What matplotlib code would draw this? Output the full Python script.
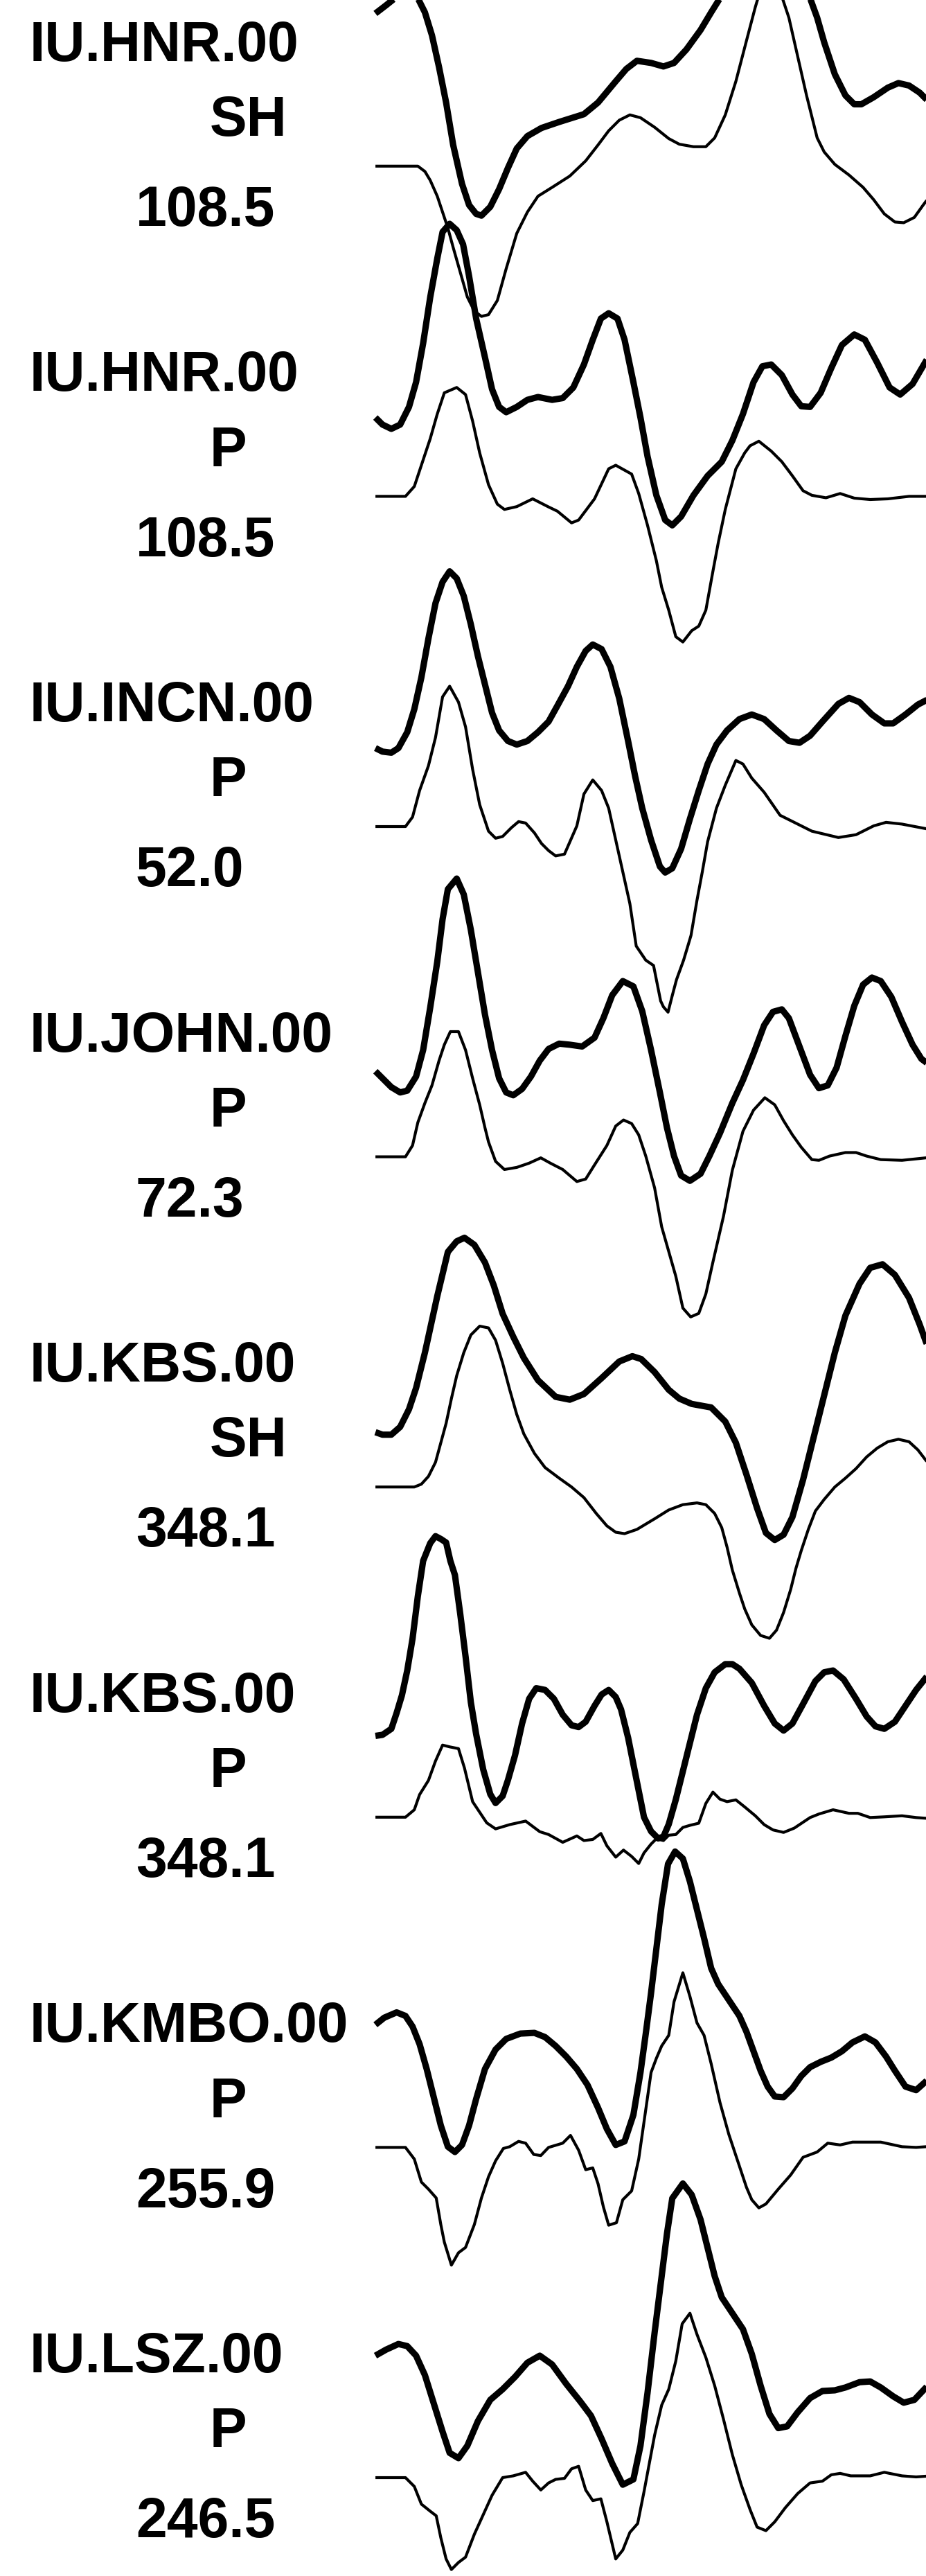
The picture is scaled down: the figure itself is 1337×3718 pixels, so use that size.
import matplotlib
matplotlib.use("Agg")
import matplotlib.pyplot as plt

# station / phase / azimuth labels, top to bottom
stations = ["IU.HNR.00", "IU.HNR.00", "IU.INCN.00", "IU.JOHN.00",
            "IU.KBS.00", "IU.KBS.00", "IU.KMBO.00", "IU.LSZ.00"]
phases = ["SH", "P", "P", "P", "SH", "P", "P", "P"]
azimuths = [108.5, 108.5, 52.0, 72.3, 348.1, 348.1, 255.9, 246.5]

# ---------------------------------------------------------------------------
# waveforms: time [s] and normalised amplitude (thick = obs, thin = syn)

hnr_sh_obs_t = [0, 0.75, 1.375, 2.25, 3.0, 3.5, 4.0, 4.5, 5.0, 5.5, 6.125, 6.625, 7.125, 7.5,
                8.125, 8.75, 9.375, 10.0, 10.75, 11.75, 13.0, 14.75, 15.75, 17.0, 17.75, 18.5,
                19.5, 20.375, 21.125, 22.0, 23.0, 23.75, 24.375, 26.0, 27.5, 29.25, 30.75,
                31.25, 31.75, 32.5, 33.25, 33.875, 34.375, 35.25, 36.25, 37.0, 37.75, 38.5,
                38.95, 39.75]
hnr_sh_obs = [4.32, 4.55, 4.75, 5.10, 4.75, 4.35, 3.70, 2.80, 1.80, 0.60, -0.50, -1.10, -1.35,
              -1.40, -1.15, -0.65, -0.05, 0.50, 0.85, 1.08, 1.25, 1.47, 1.80, 2.40, 2.75, 2.98,
              2.92, 2.82, 2.92, 3.30, 3.85, 4.35, 4.75, 5.60, 6.00, 5.60, 4.75, 4.20, 3.50,
              2.60, 2.00, 1.75, 1.75, 1.95, 2.22, 2.35, 2.28, 2.08, 1.90, 1.60]
hnr_sh_syn_t = [0, 3.0, 3.5, 3.875, 4.375, 4.75, 5.125, 5.5, 6.0, 6.5, 7.0, 7.5, 8.0, 8.625,
                9.25, 10.0, 10.75, 11.5, 12.5, 13.75, 14.875, 15.75, 16.5, 17.25, 18.0, 18.75,
                19.75, 20.75, 21.5, 22.5, 23.375, 24.0, 24.75, 25.5, 26.25, 26.875, 27.25,
                27.875, 28.5, 28.75, 29.25, 29.875, 30.5, 31.25, 31.75, 32.5, 33.5, 34.5,
                35.25, 36.0, 36.75, 37.375, 38.125, 38.75, 39.5]
hnr_sh_syn = [0, 0, -0.15, -0.40, -0.85, -1.30, -1.75, -2.30, -3.00, -3.70, -4.10, -4.25,
              -4.20, -3.80, -2.90, -1.90, -1.30, -0.85, -0.60, -0.28, 0.15, 0.60, 1.00, 1.30,
              1.45, 1.37, 1.10, 0.78, 0.62, 0.55, 0.55, 0.80, 1.45, 2.40, 3.55, 4.50, 5.00,
              5.40, 5.00, 4.80, 4.20, 3.10, 2.00, 0.80, 0.40, 0.05, -0.25, -0.60, -0.95,
              -1.35, -1.58, -1.60, -1.45, -1.10, -0.70]

hnr_p_obs_t = [0, 0.5, 1.125, 1.75, 2.375, 2.875, 3.375, 3.875, 4.375, 4.75, 5.25, 5.75, 6.2,
               6.625, 7.125, 7.75, 8.25, 8.75, 9.25, 10.0, 10.75, 11.5, 12.5, 13.25, 14.0,
               14.75, 15.375, 15.95, 16.5, 17.125, 17.625, 18.25, 18.75, 19.25, 19.875, 20.5,
               21.0, 21.625, 22.5, 23.5, 24.5, 25.25, 26.0, 26.75, 27.375, 28.0, 28.75, 29.5,
               30.125, 30.75, 31.5, 32.25, 33.0, 33.875, 34.625, 35.5, 36.375, 37.125, 38.0,
               38.95, 39.75]
hnr_p_obs = [2.23, 2.03, 1.91, 2.03, 2.53, 3.23, 4.33, 5.63, 6.73, 7.48, 7.71, 7.53, 7.13,
             6.23, 5.03, 3.93, 3.03, 2.53, 2.38, 2.53, 2.73, 2.81, 2.73, 2.78, 3.08, 3.73,
             4.43, 5.03, 5.18, 5.03, 4.43, 3.23, 2.23, 1.13, 0.03, -0.67, -0.82, -0.57, 0.03,
             0.58, 0.98, 1.58, 2.33, 3.23, 3.68, 3.73, 3.43, 2.88, 2.55, 2.53, 2.93, 3.63,
             4.28, 4.58, 4.43, 3.78, 3.08, 2.88, 3.18, 3.83, 4.38]
hnr_p_syn_t = [0, 2.125, 2.75, 3.25, 3.875, 4.375, 4.875, 5.75, 6.375, 6.875, 7.375, 8.0,
               8.625, 9.125, 10.0, 11.125, 12.25, 12.875, 13.875, 14.375, 15.5, 16.5, 17.0,
               18.125, 18.625, 19.25, 19.875, 20.25, 20.75, 21.25, 21.75, 22.375, 22.875,
               23.375, 23.875, 24.25, 24.75, 25.5, 26.125, 26.5, 27.125, 28.0, 28.75, 29.5,
               30.25, 30.875, 31.875, 32.875, 33.875, 35.0, 36.25, 37.75, 38.95, 39.75]
hnr_p_syn = [0, 0, 0.28, 0.88, 1.63, 2.33, 2.93, 3.08, 2.88, 2.13, 1.23, 0.33, -0.22, -0.37,
             -0.29, -0.07, -0.30, -0.42, -0.75, -0.67, -0.07, 0.78, 0.88, 0.63, 0.08, -0.82,
             -1.82, -2.57, -3.22, -3.97, -4.12, -3.80, -3.67, -3.22, -2.12, -1.32, -0.37,
             0.78, 1.23, 1.43, 1.56, 1.28, 0.98, 0.58, 0.16, 0.03, -0.04, 0.08, -0.05, -0.09,
             -0.07, 0.0, 0.0, -0.02]

incn_p_obs_t = [0, 0.5, 1.125, 1.625, 2.25, 2.75, 3.25, 3.75, 4.25, 4.75, 5.25, 5.75, 6.25,
                6.75, 7.25, 7.75, 8.25, 8.75, 9.375, 10.0, 10.75, 11.5, 12.25, 12.875, 13.625,
                14.25, 14.875, 15.375, 16.0, 16.625, 17.25, 17.875, 18.375, 18.875, 19.5,
                20.125, 20.5, 21.0, 21.625, 22.25, 22.875, 23.5, 24.125, 24.875, 25.75, 26.625,
                27.5, 28.375, 29.25, 30.0, 30.75, 31.625, 32.75, 33.5, 34.25, 35.125, 36.0,
                36.625, 37.5, 38.375, 38.95, 39.75]
incn_p_obs = [2.22, 2.12, 2.09, 2.22, 2.67, 3.32, 4.22, 5.32, 6.32, 6.92, 7.22, 7.02, 6.52,
              5.72, 4.82, 4.02, 3.22, 2.72, 2.42, 2.32, 2.42, 2.67, 2.97, 3.42, 3.97, 4.52,
              4.97, 5.15, 5.02, 4.52, 3.62, 2.42, 1.42, 0.52, -0.38, -1.13, -1.30, -1.18,
              -0.63, 0.22, 1.02, 1.77, 2.32, 2.72, 3.04, 3.17, 3.04, 2.72, 2.42, 2.37, 2.57,
              2.97, 3.47, 3.64, 3.52, 3.17, 2.92, 2.92, 3.17, 3.45, 3.57, 3.67]
incn_p_syn_t = [0, 2.125, 2.625, 3.125, 3.75, 4.25, 4.75, 5.25, 5.875, 6.375, 6.875, 7.375,
                8.0, 8.5, 9.0, 9.625, 10.125, 10.625, 11.25, 11.75, 12.25, 12.75, 13.375,
                14.25, 14.75, 15.375, 16.0, 16.5, 17.0, 17.5, 18.0, 18.45, 19.125, 19.675,
                19.925, 20.175, 20.375, 20.7, 21.0, 21.3, 21.8, 22.325, 22.75, 23.125, 23.5,
                24.125, 24.75, 25.5, 26.0, 26.625, 27.5, 28.625, 29.375, 30.875, 32.75, 34.0,
                35.25, 36.125, 37.25, 38.95, 39.75]
incn_p_syn = [0, 0, 0.27, 1.02, 1.72, 2.52, 3.67, 3.97, 3.52, 2.82, 1.62, 0.62, -0.13, -0.33,
              -0.28, -0.03, 0.14, 0.10, -0.18, -0.48, -0.68, -0.83, -0.78, 0.02, 0.92, 1.32,
              1.02, 0.52, -0.38, -1.28, -2.18, -3.38, -3.78, -3.93, -4.43, -4.93, -5.10,
              -5.25, -4.78, -4.33, -3.78, -3.08, -2.08, -1.28, -0.43, 0.52, 1.17, 1.87, 1.77,
              1.37, 0.97, 0.32, 0.17, -0.13, -0.31, -0.23, 0.02, 0.12, 0.07, -0.06, -0.10]

john_p_obs_t = [0, 0.5, 1.125, 1.75, 2.25, 2.875, 3.375, 3.875, 4.375, 4.75, 5.125, 5.75,
                6.25, 6.75, 7.25, 7.75, 8.25, 8.75, 9.25, 9.75, 10.375, 11.0, 11.625, 12.25,
                13.0, 13.75, 14.625, 15.5, 16.125, 16.75, 17.5, 18.25, 18.875, 19.5, 20.125,
                20.625, 21.125, 21.625, 22.25, 23.0, 23.625, 24.375, 25.25, 26.0, 26.75, 27.5,
                28.125, 28.75, 29.25, 30.0, 30.75, 31.375, 32.0, 32.625, 33.25, 33.875, 34.5,
                35.125, 35.75, 36.5, 37.25, 38.0, 38.625, 39.125, 39.75]
john_p_obs = [2.42, 2.22, 1.97, 1.82, 1.87, 2.27, 3.02, 4.22, 5.52, 6.72, 7.57, 7.87, 7.42,
              6.42, 5.22, 4.02, 3.02, 2.22, 1.82, 1.74, 1.92, 2.27, 2.72, 3.05, 3.20, 3.17,
              3.12, 3.37, 3.92, 4.57, 4.97, 4.82, 4.12, 3.02, 1.82, 0.82, 0.02, -0.53, -0.68,
              -0.48, 0.02, 0.67, 1.52, 2.17, 2.92, 3.72, 4.10, 4.17, 3.92, 3.12, 2.32, 1.94,
              2.02, 2.52, 3.42, 4.27, 4.87, 5.07, 4.97, 4.52, 3.82, 3.17, 2.77, 2.62, 2.45]
john_p_syn_t = [0, 2.125, 2.625, 3.0, 3.5, 4.0, 4.5, 4.875, 5.3, 5.875, 6.375, 6.875, 7.375,
                7.75, 8.0, 8.5, 9.125, 10.0, 10.875, 11.7, 12.375, 13.25, 14.25, 14.875, 15.5,
                16.375, 17.0, 17.55, 18.125, 18.625, 19.125, 19.75, 20.25, 20.75, 21.25, 21.75,
                22.3, 22.875, 23.375, 23.875, 24.625, 25.25, 26.0, 26.75, 27.55, 28.25,
                28.875, 29.5, 30.125, 30.875, 31.375, 32.125, 33.25, 34.0, 34.75, 35.75, 37.25,
                38.95, 39.75]
john_p_syn = [0, 0, 0.32, 0.97, 1.52, 2.02, 2.72, 3.17, 3.54, 3.54, 3.02, 2.22, 1.47, 0.82,
              0.42, -0.13, -0.36, -0.30, -0.18, -0.03, -0.18, -0.36, -0.70, -0.63, -0.23,
              0.32, 0.87, 1.04, 0.94, 0.62, 0.02, -0.88, -1.98, -2.68, -3.38, -4.28, -4.53,
              -4.43, -3.88, -2.98, -1.68, -0.38, 0.72, 1.32, 1.67, 1.47, 1.02, 0.62, 0.27,
              -0.08, -0.10, 0.02, 0.12, 0.12, 0.02, -0.08, -0.10, -0.03, -0.03]

kbs_sh_obs_t = [0, 0.5, 1.125, 1.75, 2.375, 2.875, 3.5, 4.375, 5.125, 5.75, 6.3, 7.0, 7.75,
                8.375, 9.0, 9.75, 10.5, 11.5, 12.75, 13.75, 14.75, 16.0, 17.25, 18.175, 18.8,
                19.75, 20.75, 21.5, 22.375, 23.75, 24.75, 25.5, 26.25, 27.0, 27.625, 28.25,
                28.875, 29.5, 30.25, 31.0, 31.75, 32.5, 33.25, 34.25, 35.0, 35.875, 36.75,
                37.75, 38.5, 38.95, 39.75]
kbs_sh_obs = [1.55, 1.48, 1.48, 1.70, 2.20, 2.80, 3.80, 5.40, 6.65, 6.95, 7.05, 6.85, 6.35,
              5.70, 4.90, 4.25, 3.65, 3.02, 2.55, 2.47, 2.63, 3.08, 3.55, 3.70, 3.62, 3.25,
              2.75, 2.50, 2.35, 2.25, 1.85, 1.25, 0.35, -0.60, -1.30, -1.50, -1.35, -0.85,
              0.20, 1.40, 2.60, 3.80, 4.85, 5.75, 6.20, 6.30, 6.00, 5.35, 4.60, 4.10, 3.40]
kbs_sh_syn_t = [0, 2.75, 3.25, 3.75, 4.25, 4.625, 5.0, 5.375, 5.75, 6.25, 6.75, 7.375, 8.0,
                8.5, 9.0, 9.5, 10.0, 10.5, 11.25, 12.0, 13.0, 13.875, 14.75, 15.625, 16.375,
                17.0, 17.625, 18.5, 19.75, 20.75, 21.75, 22.75, 23.375, 24.0, 24.5, 24.875,
                25.25, 25.75, 26.125, 26.625, 27.25, 27.875, 28.375, 28.875, 29.375, 29.75,
                30.125, 30.625, 31.125, 31.75, 32.5, 33.25, 34.0, 34.75, 35.5, 36.25, 37.0,
                37.75, 38.375, 38.95, 39.75]
kbs_sh_syn = [0, 0, 0.08, 0.30, 0.70, 1.25, 1.80, 2.50, 3.15, 3.80, 4.30, 4.55, 4.50, 4.15,
              3.50, 2.75, 2.05, 1.50, 0.95, 0.55, 0.25, 0.0, -0.30, -0.75, -1.10, -1.28,
              -1.32, -1.20, -0.90, -0.65, -0.50, -0.45, -0.50, -0.75, -1.15, -1.70, -2.35,
              -3.00, -3.45, -3.90, -4.20, -4.28, -4.05, -3.55, -2.90, -2.30, -1.80, -1.20,
              -0.68, -0.35, 0.0, 0.25, 0.52, 0.85, 1.10, 1.28, 1.35, 1.28, 1.05, 0.75, 0.30]

kbs_p_obs_t = [0, 0.5, 1.125, 1.5, 1.875, 2.25, 2.625, 3.0, 3.375, 3.875, 4.25, 4.625, 5.0,
               5.3, 5.625, 6.0, 6.375, 6.75, 7.125, 7.625, 8.125, 8.5, 9.0, 9.375, 9.875,
               10.375, 10.875, 11.375, 12.0, 12.625, 13.25, 13.875, 14.375, 14.875, 15.5,
               16.0, 16.5, 17.0, 17.375, 17.875, 18.375, 19.0, 19.5, 20.0, 20.375, 20.75,
               21.25, 21.75, 22.25, 22.75, 23.375, 24.0, 24.75, 25.25, 25.75, 26.625, 27.5,
               28.25, 28.875, 29.5, 30.25, 31.125, 31.75, 32.375, 33.125, 34.0, 34.75, 35.375,
               36.0, 36.75, 37.5, 38.25, 38.95, 39.75]
kbs_p_obs = [2.30, 2.33, 2.50, 2.95, 3.45, 4.15, 5.05, 6.25, 7.25, 7.75, 7.95, 7.87, 7.77,
             7.25, 6.85, 5.75, 4.55, 3.25, 2.35, 1.35, 0.65, 0.40, 0.60, 1.05, 1.75, 2.65,
             3.35, 3.65, 3.60, 3.35, 2.90, 2.60, 2.55, 2.70, 3.15, 3.47, 3.60, 3.40, 3.05,
             2.25, 1.25, 0.0, -0.40, -0.60, -0.55, -0.20, 0.50, 1.30, 2.10, 2.90, 3.65, 4.10,
             4.33, 4.33, 4.20, 3.80, 3.15, 2.65, 2.45, 2.65, 3.20, 3.85, 4.10, 4.15, 3.90,
             3.35, 2.85, 2.57, 2.50, 2.70, 3.15, 3.60, 3.95, 4.20]
kbs_p_syn_t = [0, 2.125, 2.75, 3.125, 3.75, 4.25, 4.75, 5.25, 5.875, 6.3, 6.875, 7.375,
               7.875, 8.5, 9.5, 10.625, 11.625, 12.25, 13.25, 14.25, 14.75, 15.375, 15.95,
               16.375, 17.0, 17.55, 18.125, 18.625, 19.0, 19.5, 19.875, 20.375, 20.75, 21.25,
               21.75, 22.25, 22.875, 23.375, 23.875, 24.375, 24.875, 25.5, 26.125, 26.875,
               27.5, 28.125, 28.875, 29.625, 30.75, 31.375, 32.375, 33.5, 34.125, 35.0, 36.0,
               37.25, 38.25, 38.95, 39.75]
kbs_p_syn = [0, 0, 0.21, 0.64, 1.04, 1.59, 2.04, 1.99, 1.94, 1.39, 0.44, 0.14, -0.16, -0.33,
             -0.21, -0.11, -0.41, -0.49, -0.71, -0.53, -0.66, -0.63, -0.46, -0.81, -1.13,
             -0.93, -1.11, -1.31, -1.01, -0.76, -0.61, -0.66, -0.51, -0.49, -0.29, -0.23,
             -0.17, 0.39, 0.71, 0.51, 0.44, 0.49, 0.29, 0.04, -0.21, -0.36, -0.43, -0.31,
             -0.01, 0.09, 0.21, 0.11, 0.11, -0.01, 0.01, 0.04, -0.01, -0.03, -0.03]

kmbo_p_obs_t = [0, 0.625, 1.5, 2.125, 2.625, 3.125, 3.625, 4.125, 4.625, 5.125, 5.625, 6.125,
                6.625, 7.125, 7.75, 8.5, 9.25, 10.25, 11.25, 12.0, 12.75, 13.5, 14.25, 15.0,
                15.75, 16.375, 17.0, 17.625, 18.25, 18.75, 19.125, 19.5, 19.875, 20.25, 20.7,
                21.2, 21.75, 22.25, 22.75, 23.25, 23.75, 24.25, 25.0, 25.75, 26.25, 26.75,
                27.25, 27.75, 28.25, 28.875, 29.5, 30.125, 30.75, 31.5, 32.25, 33.0, 33.75,
                34.625, 35.375, 36.125, 36.75, 37.5, 38.25, 38.95, 39.75]
kmbo_p_obs = [3.47, 3.67, 3.82, 3.72, 3.42, 2.92, 2.22, 1.42, 0.62, 0.02, -0.13, 0.07, 0.62,
              1.37, 2.22, 2.77, 3.07, 3.22, 3.24, 3.12, 2.87, 2.57, 2.22, 1.77, 1.12, 0.52,
              0.07, 0.17, 0.92, 2.12, 3.22, 4.37, 5.62, 6.87, 8.02, 8.37, 8.17, 7.52, 6.72,
              5.92, 5.07, 4.62, 4.17, 3.72, 3.27, 2.72, 2.17, 1.72, 1.44, 1.42, 1.67, 2.02,
              2.27, 2.42, 2.54, 2.72, 2.97, 3.14, 2.97, 2.57, 2.17, 1.72, 1.62, 1.87, 2.22]
kmbo_p_syn_t = [0, 2.125, 2.75, 3.25, 3.75, 4.3, 4.625, 4.875, 5.375, 5.875, 6.375, 7.0, 7.5,
                8.0, 8.5, 9.05, 9.5, 10.125, 10.625, 11.2, 11.7, 12.25, 13.25, 13.8, 14.375,
                14.875, 15.375, 15.75, 16.125, 16.5, 17.05, 17.5, 18.125, 18.625, 19.0, 19.5,
                19.875, 20.25, 20.75, 21.125, 21.75, 22.25, 22.75, 23.25, 23.75, 24.375, 25.0,
                25.75, 26.25, 26.625, 27.125, 27.625, 28.5, 29.375, 30.25, 31.25, 32.0,
                32.875, 33.75, 35.75, 37.25, 38.25, 38.95, 39.75]
kmbo_p_syn = [0, 0, -0.33, -0.98, -1.18, -1.43, -2.18, -2.68, -3.33, -2.98, -2.83, -2.18,
              -1.43, -0.83, -0.38, -0.03, 0.02, 0.17, 0.12, -0.20, -0.23, 0.0, 0.12, 0.34,
              -0.08, -0.63, -0.58, -1.03, -1.68, -2.20, -2.13, -1.48, -1.23, -0.33, 0.72,
              2.12, 2.52, 2.87, 3.17, 4.12, 4.94, 4.27, 3.52, 3.17, 2.37, 1.27, 0.37, -0.53,
              -1.13, -1.48, -1.71, -1.60, -1.18, -0.78, -0.28, -0.13, 0.12, 0.07, 0.15, 0.15,
              0.02, 0.0, 0.02, 0.02]

lsz_p_obs_t = [0, 0.75, 1.625, 2.25, 2.875, 3.5, 4.125, 4.75, 5.25, 5.875, 6.5, 7.25, 8.125,
               9.0, 9.875, 10.75, 11.625, 12.5, 13.5, 14.5, 15.25, 16.0, 16.75, 17.5, 18.25,
               18.75, 19.25, 19.75, 20.25, 20.625, 21.0, 21.75, 22.375, 23.0, 23.5, 24.0, 24.5,
               25.25, 26.0, 26.625, 27.25, 27.875, 28.5, 29.125, 29.875, 30.75, 31.625, 32.5,
               33.25, 34.25, 35.0, 35.75, 36.625, 37.375, 38.125, 38.95, 39.75]
lsz_p_obs = [3.45, 3.62, 3.78, 3.72, 3.45, 2.90, 2.10, 1.30, 0.70, 0.55, 0.90, 1.60, 2.20,
             2.50, 2.85, 3.25, 3.45, 3.20, 2.65, 2.15, 1.75, 1.10, 0.40, -0.20, -0.05, 0.90,
             2.40, 4.10, 5.70, 6.90, 7.90, 8.32, 8.00, 7.30, 6.50, 5.70, 5.10, 4.65, 4.20,
             3.50, 2.60, 1.80, 1.40, 1.45, 1.85, 2.25, 2.45, 2.47, 2.55, 2.70, 2.72, 2.55,
             2.30, 2.12, 2.20, 2.55, 2.90]
lsz_p_syn_t = [0, 2.125, 2.75, 3.25, 3.875, 4.3, 4.625, 5.0, 5.375, 5.875, 6.375, 7.0, 7.625,
               8.25, 9.0, 9.75, 10.625, 11.125, 11.7, 12.25, 12.75, 13.375, 13.875, 14.375,
               14.875, 15.375, 15.95, 16.375, 17.0, 17.5, 18.0, 18.55, 19.0, 19.375, 19.75,
               20.25, 20.75, 21.25, 21.7, 22.25, 22.75, 23.375, 24.0, 24.625, 25.25, 25.875,
               26.5, 27.0, 27.625, 28.25, 29.0, 29.875, 30.75, 31.625, 32.25, 32.875, 33.625,
               35.0, 36.0, 37.25, 38.25, 38.95, 39.75]
lsz_p_syn = [0, 0, -0.25, -0.75, -0.95, -1.08, -1.70, -2.30, -2.60, -2.40, -2.25, -1.60,
             -1.05, -0.50, 0.0, 0.05, 0.15, -0.10, -0.35, -0.15, -0.05, -0.02, 0.25, 0.32,
             -0.35, -0.65, -0.60, -1.25, -2.30, -2.05, -1.55, -1.30, -0.40, 0.40, 1.20, 2.05,
             2.50, 3.30, 4.35, 4.65, 4.05, 3.40, 2.60, 1.65, 0.65, -0.20, -0.90, -1.40,
             -1.50, -1.25, -0.85, -0.45, -0.15, -0.10, 0.08, 0.12, 0.05, 0.05, 0.15, 0.05,
             0.02, 0.04, 0.04]

obs_traces = [(hnr_sh_obs_t, hnr_sh_obs), (hnr_p_obs_t, hnr_p_obs), (incn_p_obs_t, incn_p_obs),
              (john_p_obs_t, john_p_obs), (kbs_sh_obs_t, kbs_sh_obs), (kbs_p_obs_t, kbs_p_obs),
              (kmbo_p_obs_t, kmbo_p_obs), (lsz_p_obs_t, lsz_p_obs)]
syn_traces = [(hnr_sh_syn_t, hnr_sh_syn), (hnr_p_syn_t, hnr_p_syn), (incn_p_syn_t, incn_p_syn),
              (john_p_syn_t, john_p_syn), (kbs_sh_syn_t, kbs_sh_syn), (kbs_p_syn_t, kbs_p_syn),
              (kmbo_p_syn_t, kmbo_p_syn), (lsz_p_syn_t, lsz_p_syn)]

# ---------------------------------------------------------------------------
# layout (amplitude units, trace 0 at top)
first_offset = 4.70
spacing = 9.341

plt.rcParams['font.family'] = ['Liberation Sans', 'DejaVu Sans']

fig = plt.figure(figsize=(13.37, 37.18), dpi=100)
ax = fig.add_axes([0, 0, 1, 1])
ax.set_xlim(-26.56, 38.95)
ax.set_ylim(-72.87, 0)
ax.axis('off')

for i in range(len(stations)):
    base = -(first_offset + i * spacing)
    t_o, a_o = obs_traces[i]
    t_s, a_s = syn_traces[i]
    ax.plot(t_o, [base + v for v in a_o], color='black', linewidth=6.6,
            solid_joinstyle='round', solid_capstyle='butt')
    ax.plot(t_s, [base + v for v in a_s], color='black', linewidth=3.0,
            solid_joinstyle='round', solid_capstyle='butt')

    txt = dict(fontsize=58, fontweight='bold', ha='left', va='baseline', color='black')
    ax.text(-24.46, base + 2.98, stations[i], **txt)
    ax.text(-11.75, base + 0.86, phases[i], **txt)
    ax.text(-16.96, base - 1.69, f"{azimuths[i]:.1f}", **txt)

fig.savefig("out.png", dpi=100)
